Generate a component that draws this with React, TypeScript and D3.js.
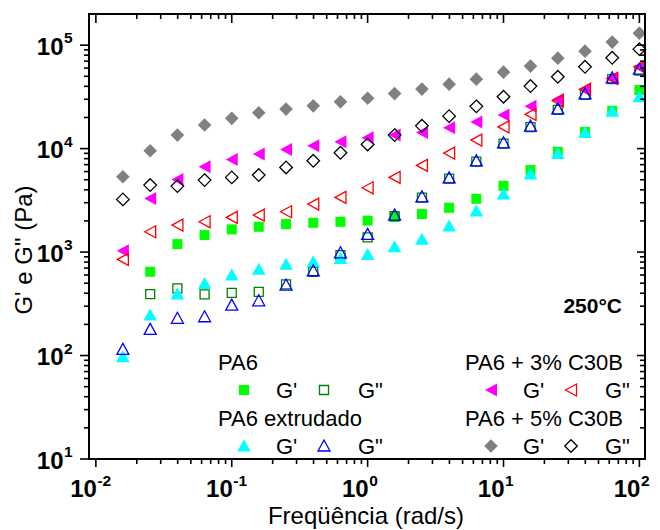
import React from 'react';
import * as d3 from 'd3';

// Frequencies (rad/s)
const freq = [0.0158, 0.0251, 0.0398, 0.0631, 0.1, 0.158, 0.251, 0.398, 0.631, 1, 1.58, 2.51, 3.98, 6.31, 10, 15.8, 25.1, 39.8, 63.1, 100];

// PA6
const pa6Gp = [null, 645, 1195, 1460, 1657, 1755, 1864, 1919, 1962, 2015, 2179, 2329, 2680, 3273, 4370, 6200, 9314, 14530, 23190, 36750];
const pa6Gpp = [null, 393, 446, 390, 404, 413, 487, 645, 935, 1387, 2227, 3362, 5130, 7488, 11180, 16130, 23650, 33020, 47000, 56700];
// PA6 extrudado
const extGp = [97.4, 246, 393, 498, 599, 681, 761, 806, 869, 950, 1125, 1327, 1783, 2490, 3635, 5670, 8987, 14340, 23030, 31670];
const extGpp = [114.8, 179, 229, 237, 307, 338, 480, 660, 984, 1483, 2278, 3422, 5212, 7620, 11380, 16500, 24190, 33850, 48210, 58640];
// PA6 + 3% C30B
const c3Gp = [1030, 3300, 5040, 6670, 7865, 8850, 9820, 10640, 11630, 12720, 13500, 14340, 15890, 18030, 21070, 25600, 29880, 37600, 47450, 61700];
const c3Gpp = [850, 1571, 1824, 1962, 2164, 2278, 2452, 2910, 3377, 4180, 5270, 6880, 9050, 12080, 16210, 21450, 28960, 37330, 47680, 61700];
// PA6 + 5% C30B
const c5Gp = [5340, 9520, 13500, 16900, 19600, 22200, 24100, 25900, 28300, 30700, 34000, 37600, 42000, 46900, 54800, 62700, 74900, 87500, 107000, 130600];
const c5Gpp = [3230, 4440, 4340, 4960, 5270, 5550, 6580, 7620, 9110, 10980, 13500, 16600, 20600, 25600, 31700, 40200, 49400, 61700, 75400, 91500];

const xTickExps = [-2, -1, 0, 1, 2];
const yTickExps = [1, 2, 3, 4, 5];

const FONT = '"Liberation Sans", Arial, sans-serif';
const L = 89, R = 645, T = 14, B = 459;

type Shape = 'square' | 'diamond' | 'triUp' | 'triLeft';

function shapePath(s: Shape): string {
  switch (s) {
    case 'square': return 'M-5,-5L5,-5L5,5L-5,5Z';
    case 'diamond': return 'M0,-6.8L6.8,0L0,6.8L-6.8,0Z';
    case 'triUp': return 'M0,-6.5L6.8,5.5L-6.8,5.5Z';
    case 'triLeft': return 'M-6,0L6,-6.5L6,6.5Z';
  }
}
function openPath(s: Shape): string {
  switch (s) {
    case 'square': return 'M-4.5,-4.5L4.5,-4.5L4.5,4.5L-4.5,4.5Z';
    case 'diamond': return 'M0,-6.3L6.3,0L0,6.3L-6.3,0Z';
    case 'triUp': return 'M0,-6L6,5L-6,5Z';
    case 'triLeft': return 'M-5.5,0L5.5,-6L5.5,6Z';
  }
}

interface Series { vals: (number | null)[]; shape: Shape; color: string; filled: boolean; }

const series: Series[] = [
  { vals: pa6Gp, shape: 'square', color: '#00ff00', filled: true },
  { vals: pa6Gpp, shape: 'square', color: '#008000', filled: false },
  { vals: c3Gp, shape: 'triLeft', color: '#ff00ff', filled: true },
  { vals: c3Gpp, shape: 'triLeft', color: '#ff0000', filled: false },
  { vals: c5Gp, shape: 'diamond', color: '#808080', filled: true },
  { vals: c5Gpp, shape: 'diamond', color: '#000000', filled: false },
  { vals: extGp, shape: 'triUp', color: '#00ffff', filled: true },
  { vals: extGpp, shape: 'triUp', color: '#0000ff', filled: false },
];

function Marker({ x, y, s }: { x: number; y: number; s: Series }) {
  return s.filled
    ? <path d={shapePath(s.shape)} transform={`translate(${x},${y})`} fill={s.color} />
    : <path d={openPath(s.shape)} transform={`translate(${x},${y})`} fill="none" stroke={s.color} strokeWidth={1.3} />;
}

export default function App() {
  const x = d3.scaleLog().domain([0.0089, 110]).range([L, R]);
  const y = d3.scaleLog().domain([10, 2e5]).range([B, T]);

  const xMinor: number[] = [];
  for (let e = -3; e <= 2; e++) for (let m = 2; m <= 9; m++) {
    const v = m * Math.pow(10, e);
    const px = x(v);
    if (px > L + 1.5 && px < R - 1.5) xMinor.push(v);
  }
  const yMinor: number[] = [];
  for (let e = 0; e <= 5; e++) for (let m = 2; m <= 9; m++) {
    const v = m * Math.pow(10, e);
    const py = y(v);
    if (py < B - 1.5 && py > T + 1.5) yMinor.push(v);
  }

  const tw = 1.6;
  const legendLeft = [
    { title: 'PA6', a: series[0], b: series[1], x0: 218, y0: 370 },
    { title: 'PA6 extrudado', a: series[6], b: series[7], x0: 218, y0: 426 },
    { title: 'PA6 + 3% C30B', a: series[2], b: series[3], x0: 465, y0: 370 },
    { title: 'PA6 + 5% C30B', a: series[4], b: series[5], x0: 465, y0: 426 },
  ];

  return (
    <svg width={660} height={530} style={{ position: 'absolute', left: 0, top: 0, background: '#fff' }} fontFamily={FONT}>
      <rect x={0} y={0} width={660} height={530} fill="#fff" />
      {/* data */}
      {series.map((s, si) => (
        <g key={si}>
          {s.vals.map((v, i) => v == null ? null : <Marker key={i} x={x(freq[i])} y={y(v)} s={s} />)}
        </g>
      ))}

      {/* ticks */}
      <g stroke="#000" strokeWidth={tw}>
        {xMinor.map((v, i) => (
          <g key={'xm' + i}>
            <line x1={x(v)} x2={x(v)} y1={B} y2={B + 5} />
            <line x1={x(v)} x2={x(v)} y1={T} y2={T + 5} />
          </g>
        ))}
        {xTickExps.map((e) => (
          <g key={'xM' + e}>
            <line x1={x(Math.pow(10, e))} x2={x(Math.pow(10, e))} y1={B} y2={B + 8} />
            <line x1={x(Math.pow(10, e))} x2={x(Math.pow(10, e))} y1={T} y2={T + 9} />
          </g>
        ))}
        {yMinor.map((v, i) => (
          <g key={'ym' + i}>
            <line x1={L - 5} x2={L} y1={y(v)} y2={y(v)} />
            <line x1={R - 5} x2={R} y1={y(v)} y2={y(v)} />
          </g>
        ))}
        {yTickExps.map((e) => (
          <g key={'yM' + e}>
            <line x1={L - 9} x2={L} y1={y(Math.pow(10, e))} y2={y(Math.pow(10, e))} />
            <line x1={R - 8} x2={R} y1={y(Math.pow(10, e))} y2={y(Math.pow(10, e))} />
          </g>
        ))}
      </g>
      <rect x={L} y={T} width={R - L} height={B - T} fill="none" stroke="#000" strokeWidth={2} />

      {/* tick labels */}
      {xTickExps.map((e) => {
        const px = x(Math.pow(10, e));
        return (
          <g key={'xl' + e} fontWeight="bold" fill="#000">
            <text x={px + 1} y={497} fontSize={24} textAnchor="end">10</text>
            <text x={px + 1.5} y={486} fontSize={15.5} textAnchor="start">{String(e)}</text>
          </g>
        );
      })}
      {yTickExps.map((e) => {
        const py = y(Math.pow(10, e));
        return (
          <g key={'yl' + e} fontWeight="bold" fill="#000">
            <text x={63.5} y={py + 9.5} fontSize={24} textAnchor="end">10</text>
            <text x={64} y={py - 2} fontSize={15.5} textAnchor="start">{String(e)}</text>
          </g>
        );
      })}

      {/* axis titles */}
      <text x={366} y={524} fontSize={24} textAnchor="middle">Freqüência (rad/s)</text>
      <text transform="translate(32,250) rotate(-90)" fontSize={24} textAnchor="middle">G' e G" (Pa)</text>

      {/* annotation */}
      <text x={622} y={313} fontSize={21} fontWeight="bold" textAnchor="end">250°C</text>

      {/* legend */}
      {legendLeft.map((lg, i) => (
        <g key={'lg' + i} fontSize={22}>
          <text x={lg.x0} y={lg.y0}>{lg.title}</text>
          <Marker x={lg.x0 + 26} y={lg.y0 + 20} s={lg.a} />
          <text x={lg.x0 + 58} y={lg.y0 + 28}>G'</text>
          <Marker x={lg.x0 + 106} y={lg.y0 + 20} s={lg.b} />
          <text x={lg.x0 + 140} y={lg.y0 + 28}>G"</text>
        </g>
      ))}
    </svg>
  );
}
